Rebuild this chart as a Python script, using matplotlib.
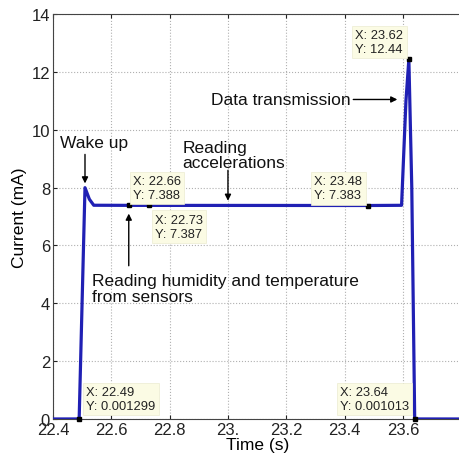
import numpy as np
import matplotlib.pyplot as plt

plt.rcParams['font.family'] = ['Liberation Sans', 'DejaVu Sans']

# Supply current trace of the node during one measurement cycle
time_s = [22.40, 22.49, 22.51, 22.525, 22.54, 22.66, 22.73, 23.00, 23.48,
          23.595, 23.61, 23.62, 23.63, 23.64, 23.80]
current_ma = [0.0, 0.001299, 8.0, 7.6, 7.392, 7.388, 7.387, 7.386, 7.383,
              7.39, 11.0, 12.44, 8.0, 0.001013, 0.0]

# Data cursors: (x, y, label offset in points, horizontal alignment)
tip_x = [22.49, 22.66, 22.73, 23.48, 23.62, 23.64]
tip_y = [0.001299, 7.388, 7.387, 7.383, 12.44, 0.001013]
tip_text = ["X: 22.49\nY: 0.001299", "X: 22.66\nY: 7.388", "X: 22.73\nY: 7.387",
            "X: 23.48\nY: 7.383", "X: 23.62\nY: 12.44", "X: 23.64\nY: 0.001013"]
tip_offset = [(5, 5), (3, 3), (4, -6), (-4, 3), (-4, 3), (-4, 5)]
tip_align = [("left", "bottom"), ("left", "bottom"), ("left", "top"),
             ("right", "bottom"), ("right", "bottom"), ("right", "bottom")]

xticks = [22.4, 22.6, 22.8, 23.0, 23.2, 23.4, 23.6]
xtick_labels = ["22.4", "22.6", "22.8", "23.", "23.2", "23.4", "23.6"]
yticks = [0, 2, 4, 6, 8, 10, 12, 14]

fig = plt.figure(figsize=(4.6, 4.6), dpi=100)
ax = fig.add_axes([0.115, 0.087, 0.888, 0.88])

ax.plot(time_s, current_ma, color='#2020b4', lw=2.3, zorder=3)

ax.set_xlim(22.4, 23.8)
ax.set_ylim(0, 14)
ax.set_xticks(xticks)
ax.set_xticklabels(xtick_labels)
ax.set_yticks(yticks)
ax.tick_params(labelsize=12, direction='in', length=3, colors='#222222',
               top=True)
ax.tick_params(axis='x', pad=2)
ax.tick_params(axis='y', pad=2)
ax.grid(True, linestyle=':', color='#b0b0b0', lw=0.8)
ax.set_axisbelow(True)
for s in ax.spines.values():
    s.set_color('#444444')
    s.set_linewidth(0.8)
ax.spines['right'].set_visible(False)

ax.set_xlabel("Time (s)", fontsize=12.5, labelpad=0)
ax.set_ylabel("Current (mA)", fontsize=12.5, labelpad=3)

# data cursor markers and boxes
ax.plot(tip_x, tip_y, 's', color='black', ms=3.5, zorder=5, clip_on=False)
for x, y, txt, off, (ha, va) in zip(tip_x, tip_y, tip_text, tip_offset, tip_align):
    ax.annotate(txt, (x, y), xytext=off, textcoords='offset points',
                ha=ha, va=va, multialignment='left', fontsize=9.3,
                color='#222222', linespacing=1.25,
                bbox=dict(boxstyle='square,pad=0.25', fc='#fbfbe4', ec='#ececd0', lw=0.5),
                zorder=6)

arrow = dict(arrowstyle='-|>', color='black', lw=1.0, mutation_scale=9,
             shrinkA=0, shrinkB=2)
txt_kw = dict(fontsize=12.5, color='#111111')

ax.annotate("", xy=(22.51, 8.05), xytext=(22.51, 9.15), arrowprops=arrow)
ax.text(22.425, 9.3, "Wake up", ha='left', va='bottom', **txt_kw)

ax.annotate("", xy=(23.0, 7.45), xytext=(23.0, 8.6), arrowprops=arrow)
ax.text(22.845, 8.6, "Reading\naccelerations", ha='left', va='bottom',
        linespacing=1.05, **txt_kw)

ax.annotate("Data transmission", xy=(23.59, 11.05), xytext=(23.42, 11.05),
            ha='right', va='center', arrowprops=arrow, **txt_kw)

ax.annotate("", xy=(22.66, 7.2), xytext=(22.66, 5.3), arrowprops=arrow)
ax.text(22.535, 5.05, "Reading humidity and temperature\nfrom sensors",
        ha='left', va='top', linespacing=1.05, **txt_kw)

fig.savefig("out.png", dpi=100)
